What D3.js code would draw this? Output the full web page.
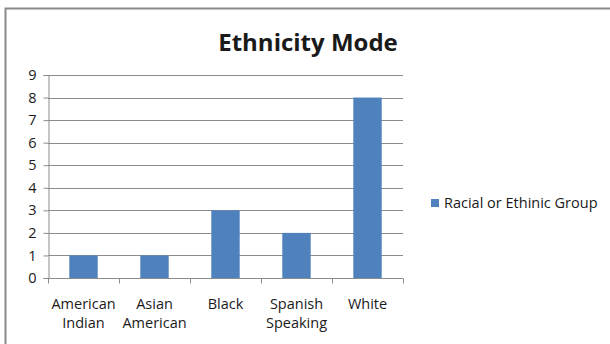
<!DOCTYPE html>
<html>
<head>
<meta charset="utf-8">
<script src="https://cdn.jsdelivr.net/npm/d3@7"></script>
<style>
  body { margin: 0; background: #fff; }
  text { font-family: "Open Sans", "Noto Sans", sans-serif; fill: #1a1a1a; }
</style>
</head>
<body>
<svg width="610" height="344"></svg>
<script>
    // *** data ***
    const categories = [['American', 'Indian'], ['Asian', 'American'], ['Black'], ['Spanish', 'Speaking'], ['White']];
    const values = [1, 1, 3, 2, 8];
    const yTicks = [0, 1, 2, 3, 4, 5, 6, 7, 8, 9];
    const seriesName = 'Racial or Ethinic Group';
    const titleText = 'Ethnicity Mode';

    const svg = d3.select('svg');
    const barColor = '#4F81BD';
    const gridColor = '#8c8c8c';

    // outer chart frame (only top/left visible)
    svg.append('rect')
        .attr('x', 5.5)
        .attr('y', 8.5)
        .attr('width', 640)
        .attr('height', 400)
        .attr('fill', 'none')
        .attr('stroke', '#8a8a8a')
        .attr('stroke-width', 2);

    const plot = { left: 48, right: 403, top: 75, bottom: 278 };

    const x = d3.scaleBand()
        .domain(categories.map(d => d.join(' ')))
        .range([plot.left, plot.right])
        .paddingInner(0.6)
        .paddingOuter(0.3);
    const y = d3.scaleLinear()
        .domain([0, 9])
        .range([plot.bottom, plot.top]);

    // gridlines
    svg.append('g')
        .selectAll('line')
        .data(yTicks.filter(d => d > 0))
        .enter()
        .append('line')
        .attr('x1', plot.left)
        .attr('x2', plot.right)
        .attr('y1', d => Math.round(y(d)) + 0.5)
        .attr('y2', d => Math.round(y(d)) + 0.5)
        .attr('stroke', gridColor)
        .attr('stroke-width', 1);

    // bars
    svg.append('g')
        .selectAll('rect')
        .data(values)
        .enter()
        .append('rect')
        .attr('x', (d, i) => x(categories[i].join(' ')))
        .attr('y', d => y(d))
        .attr('width', x.bandwidth())
        .attr('height', d => y(0) - y(d))
        .attr('fill', barColor);

    // y axis
    const yAxis = svg.append('g')
        .attr('transform', `translate(${plot.left + 0.5},0)`)
        .call(d3.axisLeft(y).tickValues(yTicks).tickSize(5).tickPadding(7).tickFormat(d3.format('d')));
    yAxis.select('.domain').attr('stroke', gridColor);
    yAxis.selectAll('.tick line').attr('stroke', gridColor);
    yAxis.selectAll('.tick text')
        .attr('font-size', 14.5)
        .style('font-family', '"Open Sans", sans-serif')
        .attr('fill', '#1a1a1a');

    // x axis
    const xAxis = svg.append('g')
        .attr('transform', `translate(0,${Math.round(y(0)) + 0.5})`);
    xAxis.append('line')
        .attr('x1', plot.left)
        .attr('x2', plot.right)
        .attr('stroke', gridColor);
    const step = (plot.right - plot.left) / categories.length;
    xAxis.selectAll('.xtick')
        .data(d3.range(categories.length + 1))
        .enter()
        .append('line')
        .attr('x1', i => Math.round(plot.left + i * step) + 0.5)
        .attr('x2', i => Math.round(plot.left + i * step) + 0.5)
        .attr('y1', 0)
        .attr('y2', 5)
        .attr('stroke', gridColor);

    xAxis.selectAll('.xlabel')
        .data(categories)
        .enter()
        .append('text')
        .attr('text-anchor', 'middle')
        .attr('font-size', 14.5)
        .attr('transform', d => `translate(${x(d.join(' ')) + x.bandwidth() / 2},0)`)
        .selectAll('tspan')
        .data(d => d)
        .enter()
        .append('tspan')
        .attr('x', 0)
        .attr('y', (d, i) => 30 + i * 19)
        .text(d => d);

    // title
    svg.append('text')
        .attr('x', 308)
        .attr('y', 51)
        .attr('text-anchor', 'middle')
        .attr('font-size', 24)
        .attr('font-weight', 'bold')
        .attr('fill', '#000')
        .text(titleText);

    // legend
    const legend = svg.append('g').attr('transform', 'translate(431,199)');
    legend.append('rect')
        .attr('width', 8)
        .attr('height', 8)
        .attr('fill', barColor);
    legend.append('text')
        .attr('x', 13)
        .attr('y', 9)
        .attr('font-size', 14.5)
        .text(seriesName);
</script>
</body>
</html>
